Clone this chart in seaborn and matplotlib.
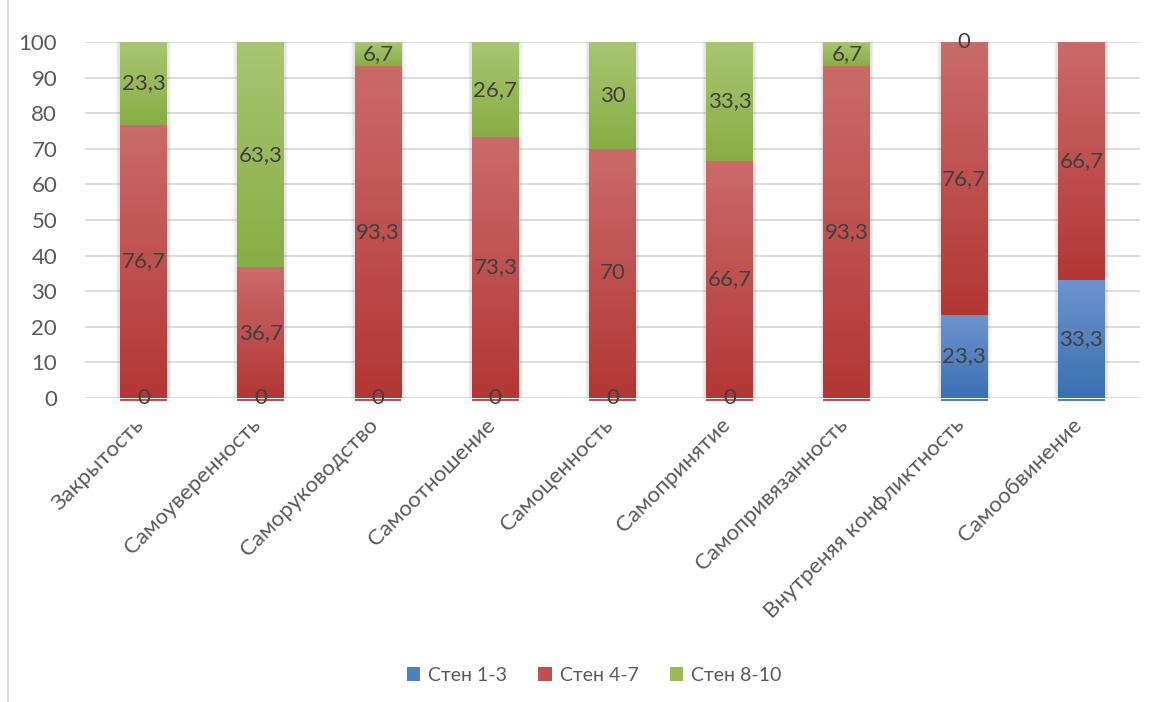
import numpy as np
import matplotlib
matplotlib.use("Agg")
import matplotlib.pyplot as plt
import matplotlib.transforms as mtransforms
import seaborn as sns
from matplotlib.colors import LinearSegmentedColormap
from matplotlib.patches import Patch
from matplotlib.lines import Line2D

categories = ["Закрытость", "Самоуверенность", "Саморуководство", "Самоотношение",
              "Самоценность", "Самопринятие", "Самопривязанность",
              "Внутреняя конфликтность", "Самообвинение"]
sten_1_3 = [0, 0, 0, 0, 0, 0, np.nan, 23.3, 33.3]
sten_4_7 = [76.7, 36.7, 93.3, 73.3, 70, 66.7, 93.3, 76.7, 66.7]
sten_8_10 = [23.3, 63.3, 6.7, 26.7, 30, 33.3, 6.7, 0, np.nan]
series_names = ["Стен 1-3", "Стен 4-7", "Стен 8-10"]

# (top colour, bottom colour) for the Excel-like gradient
grads = [("#6D93CE", "#3B70B3"), ("#CA6B69", "#B33735"), ("#A8C670", "#89AD45")]
mids = ["#4F80BE", "#C0504D", "#9BBB59"]

sns.set_theme(style="white")
plt.rcParams["font.family"] = ["Lato", "DejaVu Sans"]

fig = plt.figure(figsize=(11.58, 7.02), dpi=100)
ax = fig.add_axes([0.0734, 0.433, 0.911, 0.507])

x = np.arange(len(categories))
bw = 0.4
text_col = "#404040"

# soft shadow behind bars
tot = np.nansum([sten_1_3, sten_4_7, sten_8_10], axis=0)
for w, a in [(0.47, 0.05), (0.45, 0.07), (0.43, 0.09)]:
    sns.barplot(x=categories, y=tot, width=w, color="#7F7F7F", alpha=a,
                linewidth=0, ax=ax, zorder=1)

bottom = np.zeros(len(categories))
for vals, name, (ctop, cbot) in zip([sten_1_3, sten_4_7, sten_8_10], series_names, grads):
    v = np.array(vals, dtype=float)
    h = np.nan_to_num(v)
    cmap = LinearSegmentedColormap.from_list(name, [cbot, ctop])
    for i in range(len(categories)):
        if h[i] > 0:
            ax.imshow(np.linspace(0, 1, 100).reshape(-1, 1), cmap=cmap, origin="lower",
                      extent=[x[i] - bw / 2, x[i] + bw / 2, bottom[i], bottom[i] + h[i]],
                      aspect="auto", zorder=3, interpolation="bilinear")
        if not np.isnan(v[i]):
            lab = ("%g" % v[i]).replace(".", ",")
            ax.text(x[i], bottom[i] + h[i] / 2, lab, ha="center", va="center",
                    fontsize=16, color=text_col, zorder=5)
    bottom = bottom + h

# thin line under bars at zero
for i in range(len(categories)):
    c = mids[0] if sten_1_3[i] > 0 else mids[1]
    ax.plot([x[i] - bw / 2, x[i] + bw / 2], [-0.5, -0.5], color=c, lw=1.5, zorder=4,
            solid_capstyle="butt", clip_on=False)

ax.set_xlim(-0.5, len(categories) - 0.5)
ax.set_ylim(0, 100)
ax.set_yticks(range(0, 101, 10))
ax.yaxis.grid(True, color="#D9D9D9", lw=1.3)
ax.set_axisbelow(True)
for s in ax.spines.values():
    s.set_visible(False)
ax.tick_params(axis="y", labelsize=16, labelcolor="#595959", length=0, pad=20)
ax.tick_params(axis="x", labelsize=16, labelcolor="#595959", length=0, pad=12)
ax.set_xticks(x)
ax.set_xticklabels(categories, rotation=45, ha="right", rotation_mode="anchor")
shift = mtransforms.ScaledTranslation(-10 / 100, 0, fig.dpi_scale_trans)
for t in ax.get_xticklabels():
    t.set_transform(t.get_transform() + shift)

handles = [Patch(facecolor=c, edgecolor="none") for c in mids]
fig.legend(handles, series_names, loc="center", bbox_to_anchor=(0.513, 0.038), ncol=3,
           frameon=False, fontsize=14, handlelength=0.7, handleheight=0.7,
           columnspacing=1.6, handletextpad=0.4, labelcolor="#595959")

fig.add_artist(Line2D([8 / 1158, 8 / 1158], [0, 1], color="#D9D9D9", lw=1.2,
                      transform=fig.transFigure))

fig.savefig("out.png", dpi=100)
